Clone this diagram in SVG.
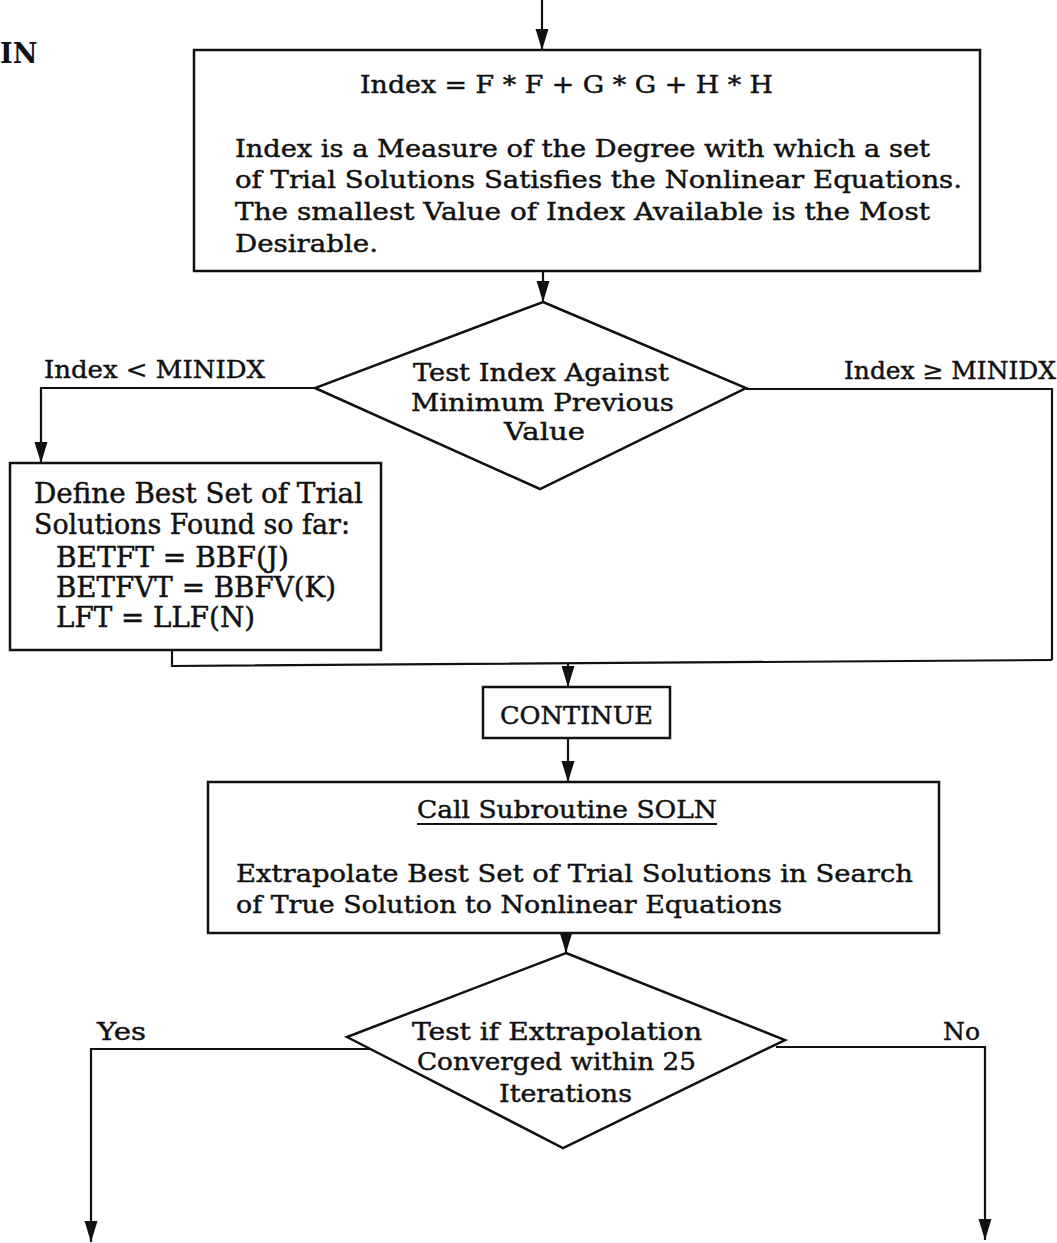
<svg xmlns="http://www.w3.org/2000/svg" width="1057" height="1243" viewBox="0 0 1057 1243">
  <style>
    .shape { fill: #ffffff; stroke: #111111; stroke-width: 2.5; }
    .wire { fill: none; stroke: #111111; stroke-width: 2.2; }
    .t { font-family: "DejaVu Serif", "Liberation Serif", serif; font-size: 24.5px; fill: #111111; stroke: #111111; stroke-width: 0.45; }
    .big { font-size: 27px; }
    .head { font-family: "DejaVu Serif", "Liberation Serif", serif; font-size: 27px; font-weight: bold; fill: #111111; }
  </style>
  <defs>
    <marker id="arrow" markerUnits="userSpaceOnUse" markerWidth="22" markerHeight="14" refX="21" refY="6.5" orient="auto">
      <path d="M0,0 L21,6.5 L0,13 z" fill="#111111"/>
    </marker>
  </defs>
  <rect width="1057" height="1243" fill="#ffffff"/>

  <!-- page heading fragment -->
  <text class="head" x="0" y="63">IN</text>

  <!-- connectors -->
  <g id="connectors">
    <path class="wire" d="M542,0 V50" marker-end="url(#arrow)"/>
    <path class="wire" d="M543,271 V302" marker-end="url(#arrow)"/>
    <path class="wire" d="M315,388 H41 V463" marker-end="url(#arrow)"/>
    <path class="wire" d="M746,389 H1052 V660"/>
    <path class="wire" d="M172,650 V666 L1052,660"/>
    <path class="wire" d="M568,663 V687" marker-end="url(#arrow)"/>
    <path class="wire" d="M568,738 V782" marker-end="url(#arrow)"/>
    <path class="wire" d="M566,933 V953" marker-end="url(#arrow)"/>
    <path class="wire" d="M373,1049 H91 V1242" marker-end="url(#arrow)"/>
    <path class="wire" d="M776,1047 H985 V1240" marker-end="url(#arrow)"/>
    <text class="t" x="44" y="378" textLength="221" lengthAdjust="spacingAndGlyphs">Index  &lt; MINIDX</text>
    <text class="t" x="844" y="379" textLength="212" lengthAdjust="spacingAndGlyphs">Index ≥ MINIDX</text>
    <text class="t" x="97" y="1040" textLength="49" lengthAdjust="spacingAndGlyphs">Yes</text>
    <text class="t" x="943" y="1040" textLength="37" lengthAdjust="spacingAndGlyphs">No</text>
  </g>

  <!-- index computation -->
  <g id="compute-index">
    <rect class="shape" x="194" y="50" width="786" height="221"/>
    <text class="t" x="360" y="93" textLength="413" lengthAdjust="spacingAndGlyphs">Index = F * F + G * G + H * H</text>
    <text class="t" x="235" y="157" textLength="695" lengthAdjust="spacingAndGlyphs">Index is a Measure of the Degree with which a set</text>
    <text class="t" x="235" y="188" textLength="727" lengthAdjust="spacingAndGlyphs">of Trial Solutions Satisfies the Nonlinear Equations.</text>
    <text class="t" x="235" y="220" textLength="695" lengthAdjust="spacingAndGlyphs">The smallest Value of Index Available is the Most</text>
    <text class="t" x="235" y="252" textLength="143" lengthAdjust="spacingAndGlyphs">Desirable.</text>
  </g>

  <!-- decision: compare with minimum -->
  <g id="test-index">
    <polygon class="shape" points="543,302 746,388 540,489 315,388"/>
    <text class="t" x="413" y="381" textLength="256" lengthAdjust="spacingAndGlyphs">Test Index Against</text>
    <text class="t" x="411" y="411" textLength="263" lengthAdjust="spacingAndGlyphs">Minimum Previous</text>
    <text class="t" x="504" y="440" textLength="81" lengthAdjust="spacingAndGlyphs">Value</text>
  </g>

  <!-- store best trial set -->
  <g id="define-best">
    <rect class="shape" x="10" y="463" width="371" height="187"/>
    <text class="t big" x="34" y="503" textLength="329" lengthAdjust="spacingAndGlyphs">Define Best Set of Trial</text>
    <text class="t big" x="34" y="534" textLength="316" lengthAdjust="spacingAndGlyphs">Solutions Found so far:</text>
    <text class="t big" x="56" y="567" textLength="233" lengthAdjust="spacingAndGlyphs">BETFT = BBF(J)</text>
    <text class="t big" x="56" y="597" textLength="280" lengthAdjust="spacingAndGlyphs">BETFVT = BBFV(K)</text>
    <text class="t big" x="56" y="627" textLength="199" lengthAdjust="spacingAndGlyphs">LFT = LLF(N)</text>
  </g>

  <!-- continue statement -->
  <g id="continue">
    <rect class="shape" x="483" y="687" width="187" height="51"/>
    <text class="t" x="500" y="724" textLength="153" lengthAdjust="spacingAndGlyphs">CONTINUE</text>
  </g>

  <!-- call SOLN -->
  <g id="call-soln">
    <rect class="shape" x="208" y="782" width="731" height="151"/>
    <text class="t" x="417" y="818" textLength="300" lengthAdjust="spacingAndGlyphs">Call Subroutine SOLN</text>
    <line x1="417" y1="824" x2="717" y2="824" stroke="#111111" stroke-width="1.8"/>
    <text class="t" x="236" y="882" textLength="677" lengthAdjust="spacingAndGlyphs">Extrapolate Best Set of Trial Solutions in Search</text>
    <text class="t" x="236" y="913" textLength="546" lengthAdjust="spacingAndGlyphs">of True Solution to Nonlinear Equations</text>
  </g>

  <!-- decision: convergence -->
  <g id="test-convergence">
    <polygon class="shape" points="566,953 785,1040 563,1148 347,1037"/>
    <text class="t" x="412" y="1040" textLength="290" lengthAdjust="spacingAndGlyphs">Test if Extrapolation</text>
    <text class="t" x="417" y="1070" textLength="279" lengthAdjust="spacingAndGlyphs">Converged within 25</text>
    <text class="t" x="499" y="1102" textLength="133" lengthAdjust="spacingAndGlyphs">Iterations</text>
  </g>
</svg>
